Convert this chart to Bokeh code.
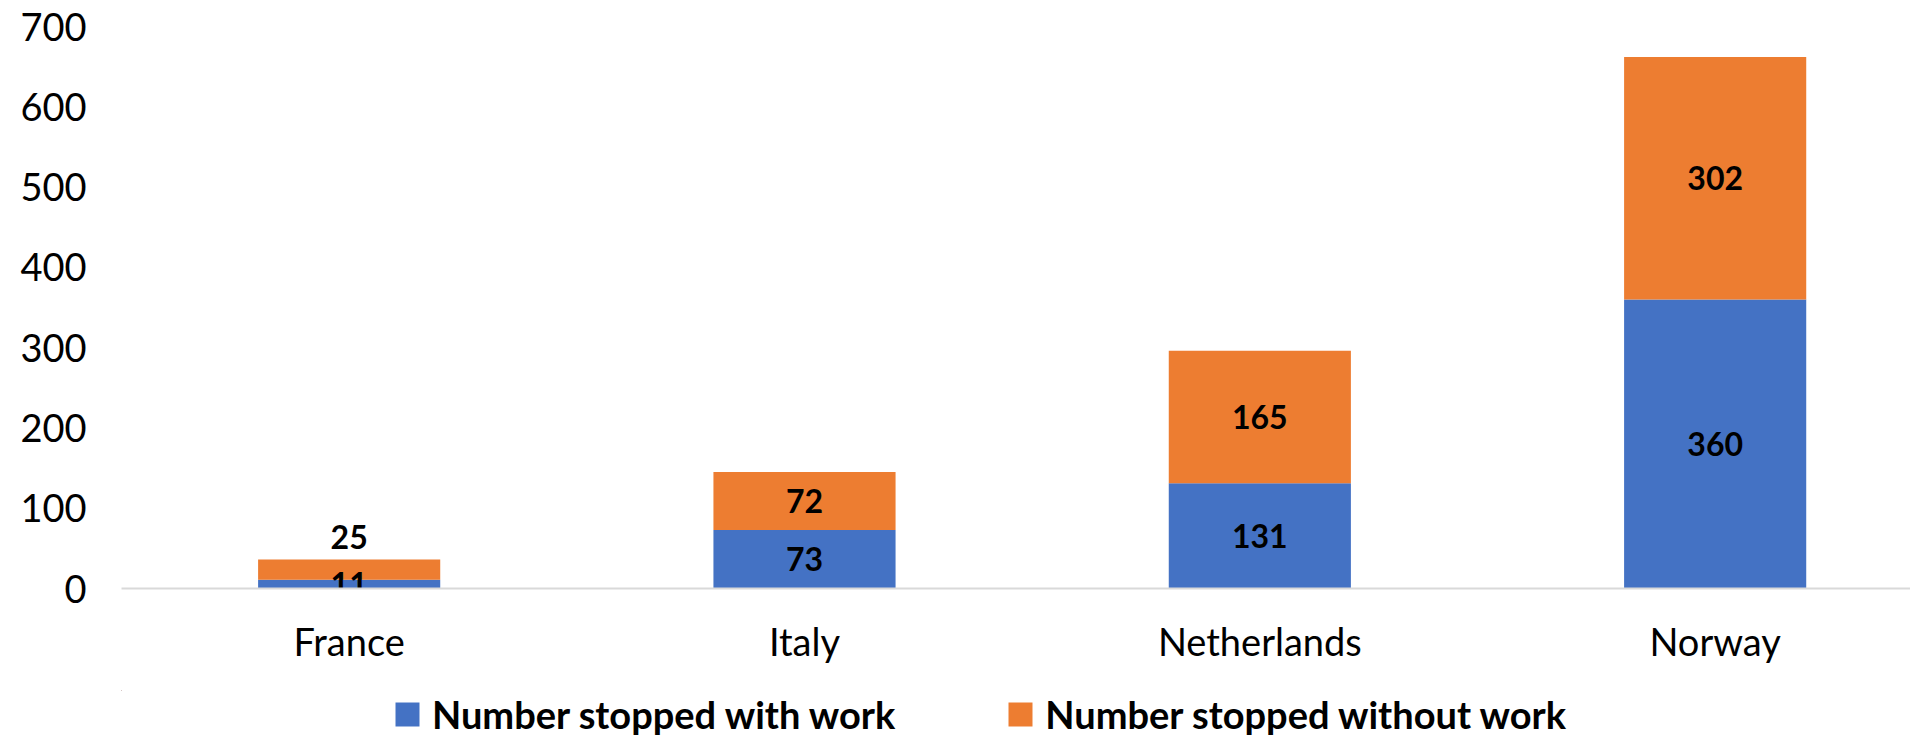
from bokeh.plotting import figure
from bokeh.layouts import column
from bokeh.models import ColumnDataSource, Range1d, FixedTicker, Legend, LegendItem
from bokeh.core.properties import value
from bokeh.embed import file_html
from bokeh.resources import INLINE

countries = ["France", "Italy", "Netherlands", "Norway"]
with_work = [11, 73, 131, 360]
without_work = [25, 72, 165, 302]
series_names = ["Number stopped with work", "Number stopped without work"]
y_ticks = [0, 100, 200, 300, 400, 500, 600, 700]
colors = ["#4472C4", "#ED7D31"]

FONT = "Lato"

xs = list(range(len(countries)))
totals = [a + b for a, b in zip(with_work, without_work)]
src = ColumnDataSource(dict(x=xs, w=with_work, o=without_work, t=totals,
                            zero=[0] * len(xs)))

p = figure(width=1910, height=690, output_backend="svg",
           toolbar_location=None,
           x_range=Range1d(-0.5, 3.429), y_range=Range1d(0, 700),
           min_border_left=121, min_border_right=0, min_border_top=26,
           min_border_bottom=102)
p.outline_line_color = None
p.xgrid.grid_line_color = None
p.ygrid.grid_line_color = None

r1 = p.vbar(x="x", bottom="zero", top="w", width=0.4, source=src,
            fill_color=colors[0], line_color=None)
r2 = p.vbar(x="x", bottom="w", top="t", width=0.4, source=src,
            fill_color=colors[1], line_color=None)

# data labels
lx, ly, lt, loff = [], [], [], []
for i in xs:
    lx.append(i); ly.append(with_work[i] / 2); lt.append(str(with_work[i])); loff.append(0)
    if without_work[i] < 30:
        lx.append(i); ly.append(totals[i]); lt.append(str(without_work[i])); loff.append(-23)
    else:
        lx.append(i); ly.append(with_work[i] + without_work[i] / 2); lt.append(str(without_work[i])); loff.append(0)
lsrc = ColumnDataSource(dict(x=lx, y=ly, text=lt, off=loff))
p.text(x="x", y="y", text="text", y_offset="off", source=lsrc,
       text_align="center", text_baseline="middle",
       text_font=value(FONT), text_font_style="bold", text_font_size="32px",
       text_color="#000000")

p.xaxis.ticker = FixedTicker(ticks=xs)
p.xaxis.major_label_overrides = {i: c for i, c in zip(xs, countries)}
p.xaxis.axis_line_color = "#d9d9d9"
p.xaxis.axis_line_width = 2
p.xaxis.major_tick_line_color = None
p.xaxis.minor_tick_line_color = None
p.xaxis.major_label_standoff = 23
p.xaxis.major_label_text_font = FONT
p.xaxis.major_label_text_font_size = "38px"
p.xaxis.major_label_text_color = "#000000"

p.yaxis.ticker = FixedTicker(ticks=y_ticks)
p.yaxis.axis_line_color = None
p.yaxis.major_tick_line_color = None
p.yaxis.minor_tick_line_color = None
p.yaxis.major_label_standoff = 29
p.yaxis.major_label_text_font = FONT
p.yaxis.major_label_text_font_size = "38px"
p.yaxis.major_label_text_color = "#000000"

# legend strip below the chart (its bars lie far outside its visible ranges)
lg = figure(width=1910, height=51, output_backend="svg", toolbar_location=None,
            x_range=Range1d(100, 101), y_range=Range1d(-2000, -1999),
            x_axis_location=None, y_axis_location=None,
            min_border_left=0, min_border_right=0, min_border_top=0,
            min_border_bottom=0)
lg.grid.visible = False
lg.outline_line_color = None
l1 = lg.vbar(x="x", bottom="zero", top="w", width=0.4, source=src,
             fill_color=colors[0], line_color=None)
l2 = lg.vbar(x="x", bottom="w", top="t", width=0.4, source=src,
             fill_color=colors[1], line_color=None)

legend = Legend(items=[LegendItem(label=series_names[0], renderers=[l1], index=0),
                       LegendItem(label=series_names[1], renderers=[l2], index=0)],
                orientation="horizontal", location=(271, 4),
                glyph_width=30, glyph_height=30, label_standoff=10, spacing=110,
                padding=0, margin=0, border_line_color=None,
                background_fill_alpha=0,
                label_text_font=FONT, label_text_font_style="bold",
                label_text_font_size="38px", label_text_color="#000000")
lg.add_layout(legend, "center")

layout = column(p, lg, spacing=0)
open("out.html", "w").write(file_html(layout, INLINE))
